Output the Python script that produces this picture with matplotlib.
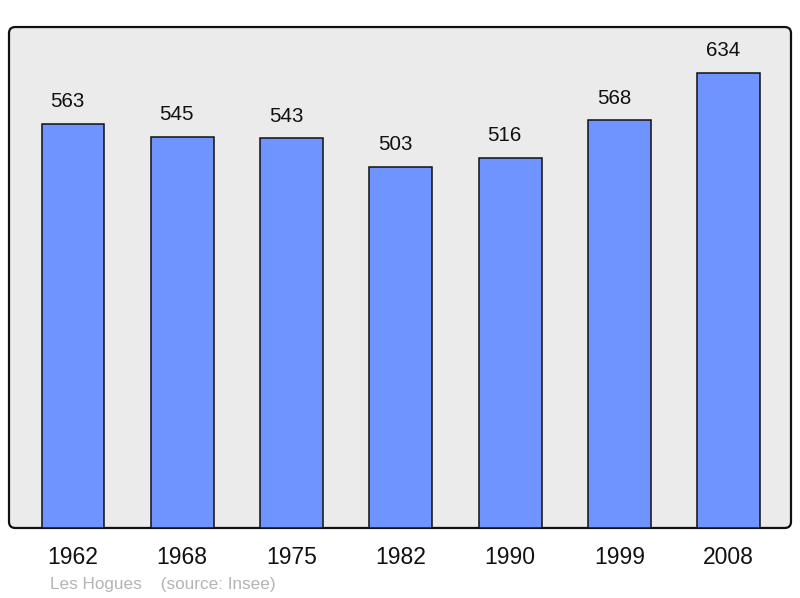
import matplotlib.pyplot as plt
from matplotlib.patches import FancyBboxPatch

years = ["1962", "1968", "1975", "1982", "1990", "1999", "2008"]
population = [563, 545, 543, 503, 516, 568, 634]

plt.rcParams["font.family"] = ["Liberation Sans", "DejaVu Sans"]

fig = plt.figure(figsize=(8, 5.98), dpi=100)
ax = fig.add_axes([0.01125, 0.1171, 0.9775, 0.8377])

# rounded grey frame instead of the usual spines
ax.patch.set_visible(False)
for s in ax.spines.values():
    s.set_visible(False)
frame = FancyBboxPatch((0, 0), 1, 1, boxstyle="round,pad=0,rounding_size=0.008",
                       mutation_aspect=782 / 501, transform=ax.transAxes,
                       facecolor="#ebebeb", edgecolor="#111111", linewidth=1.6,
                       clip_on=False, zorder=0)
ax.add_patch(frame)

x = range(len(years))
bars = ax.bar(x, population, width=0.575, color="#7094ff",
              edgecolor="#111111", linewidth=1.1, zorder=2)

for xi, v in zip(x, population):
    ax.annotate(str(v), (xi, v), xytext=(-4, 16), textcoords="offset points",
                ha="center", va="center", fontsize=14.8, color="#111111")

ax.set_xlim(-0.585, 6.57)
ax.set_ylim(0, 698)
ax.set_yticks([])
ax.set_xticks(list(x))
ax.set_xticklabels(years, fontsize=16.5, color="#111111")
ax.tick_params(axis="x", length=0, pad=13)

fig.text(50 / 800, 1 - 584 / 598, "Les Hogues    (source: Insee)",
         fontsize=12.3, color="#b4b4b4", va="center", ha="left")

fig.savefig("out.png", dpi=100)
